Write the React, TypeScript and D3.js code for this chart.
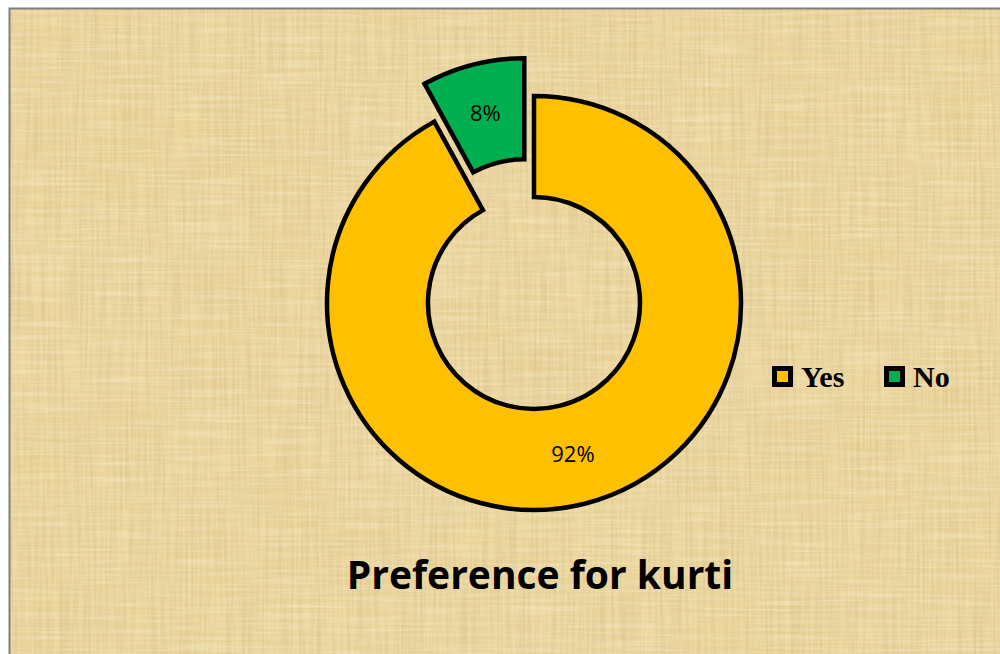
import React from 'react';
import * as d3 from 'd3';

// data
const categories = ['Yes', 'No'];
const shares = [92, 8];
const colors = ['#FFC000', '#00B050'];
const title = 'Preference for kurti';

const W = 1000;
const H = 654;

const App = () => {
  const cx = 534;
  const cy = 303;
  const outerR = 207;
  const innerR = 106;
  const explode = 39; // the "No" slice is pulled out

  const pie = d3.pie<number>().sort(null).value(d => d);
  const arcs = pie(shares);
  const arc = d3.arc<d3.PieArcDatum<number>>().innerRadius(innerR).outerRadius(outerR);
  const total = d3.sum(shares);

  return (
    <svg width={W} height={H} style={{ position: 'absolute', left: 0, top: 0 }}>
      <defs>
        <filter id="fibresV" x="0" y="0" width="100%" height="100%">
          <feTurbulence type="fractalNoise" baseFrequency="0.35 0.012" numOctaves="2" seed="3" />
          <feColorMatrix type="matrix" values="0 0 0 0 0.55  0 0 0 0 0.42  0 0 0 0 0.18  1.5 0 0 0 -0.55" />
        </filter>
        <filter id="fibresH" x="0" y="0" width="100%" height="100%">
          <feTurbulence type="fractalNoise" baseFrequency="0.012 0.35" numOctaves="2" seed="7" />
          <feColorMatrix type="matrix" values="0 0 0 0 1  0 0 0 0 0.95  0 0 0 0 0.8  1.5 0 0 0 -0.6" />
        </filter>
        <filter id="blotch" x="0" y="0" width="100%" height="100%">
          <feTurbulence type="fractalNoise" baseFrequency="0.006 0.01" numOctaves="2" seed="11" />
          <feColorMatrix type="matrix" values="0 0 0 0 0.8  0 0 0 0 0.63  0 0 0 0 0.28  1.2 0 0 0 -0.45" />
        </filter>
      </defs>

      <rect x={0} y={0} width={W} height={H} fill="#ffffff" />
      <rect x={9} y={8} width={W - 9} height={H - 8} fill="#EDD7A0" />
      <rect x={9} y={8} width={W - 9} height={H - 8} filter="url(#blotch)" opacity={0.55} />
      <rect x={9} y={8} width={W - 9} height={H - 8} filter="url(#fibresV)" opacity={0.45} />
      <rect x={9} y={8} width={W - 9} height={H - 8} filter="url(#fibresH)" opacity={0.45} />
      <path d={`M9.5,${H} V8.5 H${W}`} fill="none" stroke="#7f7f7f" strokeWidth={2} />

      <g transform={`translate(${cx},${cy})`}>
        {arcs.map((a, i) => {
          const mid = (a.startAngle + a.endAngle) / 2;
          const off = i === 1 ? explode : 0;
          const dx = Math.sin(mid) * off;
          const dy = -Math.cos(mid) * off;
          const [lx, ly] = arc.centroid(a);
          return (
            <g key={categories[i]} transform={`translate(${dx},${dy})`}>
              <path d={arc(a) ?? ''} fill={colors[i]} stroke="#000" strokeWidth={4.5} strokeLinejoin="miter" />
              <text x={lx} y={ly} dy="0.35em" textAnchor="middle" fontFamily="'Open Sans', Lato, sans-serif" fontSize={22} fill="#000">
                {`${Math.round((a.data / total) * 100)}%`}
              </text>
            </g>
          );
        })}
      </g>

      <g fontFamily="'Liberation Serif', 'Times New Roman', serif" fontWeight="bold" fontSize={30}>
        {categories.map((c, i) => {
          const x = i === 0 ? 772 : 884;
          return (
            <g key={c}>
              <rect x={x + 2.5} y={368.5} width={16} height={16} fill={colors[i]} stroke="#000" strokeWidth={5} />
              <text x={x + 29} y={387}>{c}</text>
            </g>
          );
        })}
      </g>

      <text x={540} y={589} textAnchor="middle" fontFamily="'Open Sans', Lato, sans-serif" fontWeight="bold" fontSize={39} fill="#000">
        {title}
      </text>
    </svg>
  );
};

export default App;
